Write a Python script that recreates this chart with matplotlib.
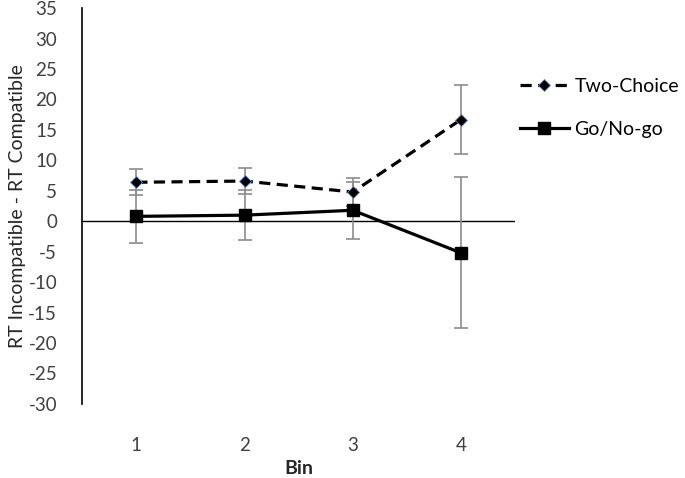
import numpy as np
import matplotlib
matplotlib.use('Agg')
import matplotlib.pyplot as plt

plt.rcParams['font.family'] = ['Lato', 'DejaVu Sans']
plt.rcParams['axes.unicode_minus'] = False

bins = [1, 2, 3, 4]
bin_labels = ['1', '2', '3', '4']
two_choice = [6.4, 6.6, 4.8, 16.7]
two_choice_err = [2.1, 2.1, 2.3, 5.7]
go_nogo = [0.8, 1.0, 1.8, -5.2]
go_nogo_err = [4.3, 4.1, 4.7, 12.4]

fig = plt.figure(figsize=(6.85, 4.78), dpi=100)
ax = fig.add_axes([0.12, 0.155, 0.632, 0.828])

ax.axhline(0, color='black', lw=1, zorder=1)

ax.errorbar(bins, two_choice, yerr=two_choice_err, fmt='none', ecolor='#8c8c8c',
            elinewidth=1.2, capsize=5, capthick=1.2, zorder=2)
ax.errorbar(bins, go_nogo, yerr=go_nogo_err, fmt='none', ecolor='#8c8c8c',
            elinewidth=1.2, capsize=5, capthick=1.2, zorder=2)

ax.plot(bins, two_choice, color='black', lw=2.3, ls=(0, (3.5, 2)), marker='D',
        markersize=6.5, markerfacecolor='black', markeredgecolor='#5b8fd0',
        markeredgewidth=0.6, label='Two-Choice', zorder=3)
ax.plot(bins, go_nogo, color='black', lw=2.3, marker='s', markersize=9,
        markerfacecolor='black', markeredgecolor='black', label='Go/No-go', zorder=3)

ax.set_xlim(0.5, 4.5)
ax.set_ylim(-30, 35)
ax.set_yticks(np.arange(-30, 36, 5))
ax.set_xticks(bins)
ax.set_xticklabels(bin_labels)
ax.tick_params(axis='y', length=0, labelsize=13.5, colors='#404040', pad=18)
ax.tick_params(axis='x', length=0, labelsize=13.5, colors='#404040', pad=24)

for s in ['top', 'right', 'bottom']:
    ax.spines[s].set_visible(False)
ax.spines['left'].set_linewidth(1.2)

ax.set_ylabel('RT Incompatible - RT Compatible', fontsize=14, color='#262626', labelpad=2)
ax.set_xlabel('Bin', fontsize=14, fontweight='bold', color='#262626', labelpad=4)

ax.legend(loc='upper left', bbox_to_anchor=(520 / 685, 1 - 78 / 478),
          bbox_transform=fig.transFigure, borderaxespad=0, borderpad=0,
          frameon=False, fontsize=14, handlelength=2.5, labelspacing=1.35,
          handletextpad=0.3)

fig.savefig('out.png', dpi=100)
